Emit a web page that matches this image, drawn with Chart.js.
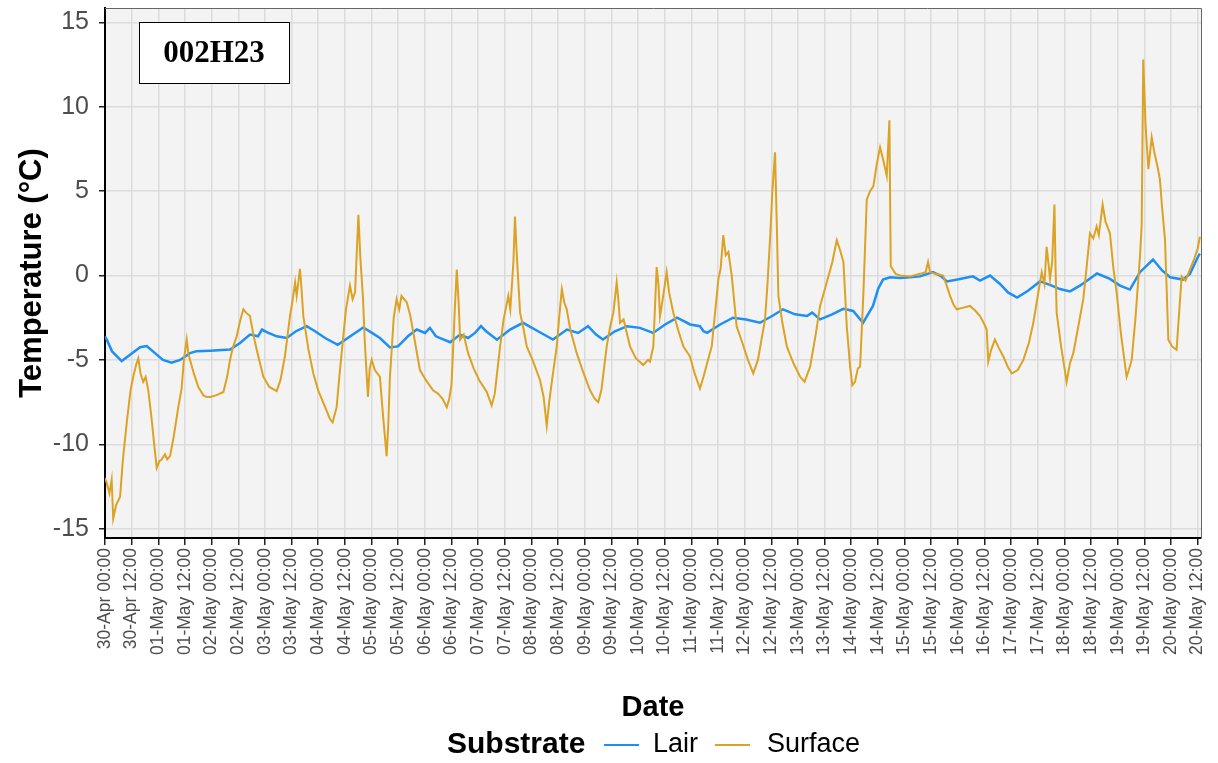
<!DOCTYPE html>
<html>
<head>
<meta charset="utf-8">
<script src="https://cdn.jsdelivr.net/npm/chart.js@4.4.1/dist/chart.umd.min.js"></script>
<style>
  html, body { margin: 0; padding: 0; background: #fff; }
  #chart { display: block; }
</style>
</head>
<body>
<canvas id="chart" width="1218" height="763"></canvas>
<script>
// DATA  (hours since 30-Apr 00:00, temperature in °C)
const seriesNames = ["Lair", "Surface"];
const seriesColors = ["#1E8FF5", "#DCA224"];
const logger = "002H23";

const tickLabels = [
  "30-Apr 00:00", "30-Apr 12:00", "01-May 00:00", "01-May 12:00", "02-May 00:00", "02-May 12:00",
  "03-May 00:00", "03-May 12:00", "04-May 00:00", "04-May 12:00", "05-May 00:00", "05-May 12:00",
  "06-May 00:00", "06-May 12:00", "07-May 00:00", "07-May 12:00", "08-May 00:00", "08-May 12:00",
  "09-May 00:00", "09-May 12:00", "10-May 00:00", "10-May 12:00", "11-May 00:00", "11-May 12:00",
  "12-May 00:00", "12-May 12:00", "13-May 00:00", "13-May 12:00", "14-May 00:00", "14-May 12:00",
  "15-May 00:00", "15-May 12:00", "16-May 00:00", "16-May 12:00", "17-May 00:00", "17-May 12:00",
  "18-May 00:00", "18-May 12:00", "19-May 00:00", "19-May 12:00", "20-May 00:00", "20-May 12:00"
];
const yTicks = [-15, -10, -5, 0, 5, 10, 15];

const lairReadings = [
  [0, -3.6], [0.8, -3.8], [3.2, -4.5], [7.5, -5.07], [11.3, -4.7], [15.8, -4.25], [18.8, -4.18],
  [22.5, -4.6], [26.1, -5.0], [30.0, -5.17], [33.8, -5.0], [38.3, -4.6], [41.3, -4.48], [47.3, -4.45],
  [56.3, -4.38], [60.8, -4.0], [65.3, -3.5], [68.9, -3.6], [70.7, -3.2], [72.8, -3.35], [77.3, -3.6],
  [81.8, -3.7], [86.0, -3.3], [90.8, -3.0], [94.6, -3.3], [99.1, -3.7], [104.8, -4.1], [109.3, -3.7],
  [116.3, -3.08], [120.2, -3.4], [123.8, -3.7], [128.3, -4.26], [131.9, -4.2], [136.4, -3.6],
  [140.4, -3.2], [144.1, -3.4], [146.3, -3.1], [149.0, -3.6], [155.4, -3.95], [159.9, -3.5],
  [163.5, -3.7], [166.6, -3.4], [169.3, -3.0], [171.6, -3.3], [176.5, -3.8], [182.4, -3.2],
  [188.2, -2.8], [195.0, -3.3], [201.7, -3.79], [208.0, -3.2], [213.0, -3.4], [217.5, -3.0],
  [221.1, -3.5], [224.2, -3.79], [229.6, -3.3], [235.1, -3.0], [240.9, -3.1], [246.8, -3.4],
  [252.2, -2.9], [257.6, -2.5], [263.5, -2.9], [267.9, -3.0], [269.5, -3.3], [271.1, -3.4],
  [277.0, -2.9], [282.8, -2.5], [288.7, -2.6], [294.9, -2.8], [300.4, -2.4], [305.3, -2.0],
  [310.7, -2.3], [316.1, -2.4], [318.4, -2.2], [322.0, -2.6], [327.4, -2.3], [332.4, -1.97],
  [336.9, -2.1], [341.3, -2.8], [345.8, -1.8], [348.1, -0.8], [350.3, -0.24], [353.5, -0.1],
  [358.0, -0.15], [362.5, -0.1], [367.0, -0.05], [372.8, 0.2], [376.0, 0.0], [379.2, -0.35],
  [385.0, -0.2], [390.8, -0.05], [394.0, -0.3], [398.5, 0.0], [403.0, -0.5], [406.6, -1.0],
  [410.7, -1.3], [415.6, -0.9], [421.0, -0.35], [425.5, -0.55], [430.0, -0.8], [434.5, -0.94],
  [439.0, -0.6], [446.7, 0.12], [452.5, -0.2], [457.0, -0.6], [461.5, -0.83], [466.0, 0.2],
  [471.9, 0.95], [476.0, 0.3], [479.6, -0.1], [485.4, -0.24], [488.5, 0.1], [492.1, 1.1], [493.0, 1.3]
];

const surfaceReadings = [
  [0.0, -12.0], [0.8, -12.3], [2.0, -12.9], [3.0, -12.1], [3.7, -14.4], [5.0, -13.6], [6.8, -13.1],
  [8.0, -11.0], [9.8, -8.7], [11.5, -6.8], [12.7, -6.0], [14.0, -5.3], [15.0, -4.9], [16.0, -5.8],
  [17.2, -6.3], [18.3, -6.0], [19.5, -6.8], [21.0, -8.5], [22.3, -10.2], [23.3, -11.4], [24.5, -11.0],
  [25.5, -10.9], [27.0, -10.6], [28.0, -10.9], [29.3, -10.7], [31.0, -9.5], [33.0, -7.8], [34.5, -6.7],
  [35.5, -5.0], [36.8, -3.8], [37.5, -4.6], [38.3, -5.0], [40.0, -5.8], [42.0, -6.6], [44.3, -7.1],
  [46.0, -7.2], [47.3, -7.2], [50.0, -7.1], [53.3, -6.9], [55.0, -6.0], [56.3, -5.0], [57.5, -4.3],
  [59.3, -3.6], [61.0, -2.6], [62.3, -2.0], [63.5, -2.2], [65.3, -2.4], [66.8, -3.5], [68.5, -4.5],
  [71.3, -6.0], [74.0, -6.6], [77.3, -6.85], [79.0, -6.2], [81.0, -4.8], [83.3, -2.4], [84.3, -1.6],
  [85.6, -0.4], [86.3, -1.2], [87.8, 0.4], [88.5, -0.8], [89.3, -2.4], [91.5, -4.3], [93.8, -5.8],
  [96.0, -6.8], [98.5, -7.6], [101.3, -8.5], [102.5, -8.7], [104.3, -7.8], [105.5, -6.0], [107.3, -3.6],
  [108.5, -2.0], [110.3, -0.6], [111.5, -1.4], [112.6, -1.0], [114.1, 3.6], [115.0, 1.0], [116.2, -1.4],
  [117.0, -4.0], [118.4, -7.2], [119.2, -5.5], [120.1, -5.0], [121.5, -5.6], [123.8, -6.0], [125.0, -8.0],
  [126.8, -10.7], [127.5, -9.0], [128.3, -6.0], [129.1, -4.4], [130.0, -2.5], [131.3, -1.4], [132.5, -2.0],
  [133.5, -1.2], [135.9, -1.6], [137.5, -2.4], [139.0, -3.5], [141.8, -5.6], [144.5, -6.2], [147.7, -6.8],
  [150.0, -7.0], [152.0, -7.3], [153.9, -7.8], [155.0, -7.3], [156.0, -6.5], [156.8, -4.2], [157.5, -2.0],
  [158.4, 0.35], [159.2, -1.5], [159.9, -3.8], [161.5, -3.5], [163.5, -4.6], [166.0, -5.5], [168.5, -6.2],
  [171.9, -6.9], [174.1, -7.7], [175.5, -7.0], [177.9, -4.2], [179.5, -2.6], [181.6, -1.2], [182.5, -2.0],
  [183.9, 0.8], [184.6, 3.5], [185.5, 1.0], [186.9, -2.2], [188.5, -3.2], [189.9, -4.2], [192.5, -5.0],
  [195.9, -6.2], [197.5, -7.2], [198.9, -8.9], [200.0, -7.5], [201.5, -6.0], [203.4, -4.2], [204.5, -2.5],
  [205.7, -0.8], [206.8, -1.6], [207.9, -2.0], [209.5, -3.2], [212.4, -4.6], [215.0, -5.6], [218.4, -6.8],
  [220.5, -7.3], [222.1, -7.5], [223.5, -6.8], [225.9, -4.2], [227.5, -3.0], [228.9, -2.2], [230.4, -0.4],
  [231.2, -1.5], [231.9, -2.8], [233.5, -2.6], [236.4, -4.2], [239.0, -4.9], [242.4, -5.3], [244.5, -5.0],
  [245.4, -5.1], [246.9, -4.2], [248.4, 0.5], [249.2, -0.5], [249.9, -2.4], [251.0, -1.5], [252.9, 0.2],
  [254.0, -1.0], [255.9, -2.2], [258.0, -3.2], [260.4, -4.2], [263.4, -4.8], [265.5, -5.8], [267.9, -6.7],
  [269.5, -6.0], [271.5, -5.0], [273.2, -4.2], [275.0, -1.8], [276.2, -0.2], [277.2, 0.4], [278.4, 2.4],
  [279.5, 1.2], [280.7, 1.4], [282.2, 0.0], [284.4, -3.0], [287.0, -4.0], [289.5, -5.0], [291.9, -5.8],
  [294.0, -5.0], [296.0, -3.5], [297.2, -2.6], [298.3, -0.5], [299.5, 2.3], [300.5, 5.0], [301.7, 7.3],
  [302.5, 3.0], [303.2, -1.2], [305.0, -2.8], [307.0, -4.2], [310.0, -5.2], [313.0, -6.0], [315.0, -6.3],
  [317.5, -5.4], [320.0, -3.5], [322.0, -1.8], [325.0, -0.4], [327.5, 0.8], [329.5, 2.1], [331.0, 1.5],
  [332.5, 0.8], [334.0, -3.0], [335.5, -5.4], [336.5, -6.5], [337.7, -6.3], [339.0, -5.5], [340.0, -5.4],
  [341.5, -1.0], [343.0, 4.5], [344.5, 5.0], [346.0, 5.3], [347.5, 6.6], [349.0, 7.6], [350.5, 6.8],
  [352.0, 5.9], [353.2, 9.2], [353.8, 0.55], [356.0, 0.1], [358.0, 0.0], [362.5, -0.05], [367.0, 0.1],
  [369.5, 0.2], [370.6, 0.8], [371.5, 0.2], [374.0, 0.1], [377.4, 0.0], [379.0, -0.6], [380.5, -1.2],
  [382.0, -1.7], [383.5, -2.0], [386.5, -1.9], [389.5, -1.8], [392.0, -2.1], [394.0, -2.4], [396.0, -2.9],
  [397.0, -3.2], [397.7, -5.1], [399.0, -4.4], [400.7, -3.8], [402.5, -4.3], [404.5, -4.8], [406.5, -5.4],
  [408.3, -5.8], [411.0, -5.6], [413.5, -5.0], [416.0, -4.0], [418.0, -2.8], [420.0, -1.2], [421.8, 0.2],
  [423.0, -0.5], [424.0, 1.7], [425.0, 0.5], [425.5, -0.2], [426.5, 0.8], [427.5, 4.2], [428.0, 0.5],
  [428.5, -2.2], [430.5, -4.2], [433.0, -6.3], [434.5, -5.2], [436.0, -4.6], [438.0, -3.2], [440.5, -1.4],
  [442.0, 0.5], [443.5, 2.5], [445.0, 2.2], [446.5, 2.9], [447.5, 2.4], [449.2, 4.2], [450.5, 3.2],
  [452.5, 2.5], [454.0, 0.5], [455.5, -1.0], [457.5, -3.5], [460.0, -6.0], [461.0, -5.6], [462.3, -5.0],
  [464.0, -2.5], [466.0, 1.1], [466.8, 3.0], [467.5, 12.8], [468.5, 9.0], [469.8, 6.3], [471.3, 8.2],
  [472.5, 7.3], [474.0, 6.4], [475.0, 5.7], [476.0, 4.0], [477.3, 2.1], [478.8, -3.8], [480.5, -4.2],
  [482.5, -4.4], [483.5, -2.5], [484.8, -0.05], [486.5, -0.3], [488.5, 0.35], [490.5, 1.0], [492.0, 1.6],
  [493.0, 2.3]
];

// SETUP
Chart.defaults.font.family = "'Liberation Sans', Arial, sans-serif";
Chart.defaults.color = "#4D4D4D";

const toPoints = (rows) => rows.map(([h, t]) => ({ x: h, y: t }));

const data = {
  datasets: [
    {
      label: seriesNames[0],
      data: toPoints(lairReadings),
      borderColor: seriesColors[0],
      borderWidth: 2.5,
      pointRadius: 0,
      order: 2,
    },
    {
      label: seriesNames[1],
      data: toPoints(surfaceReadings),
      borderColor: seriesColors[1],
      borderWidth: 2,
      pointRadius: 0,
      order: 1,
    },
  ],
};

// panel background, frame, id box and legend
const decorations = {
  id: "decorations",
  beforeDraw(chart) {
    const { ctx, chartArea: a } = chart;
    ctx.save();
    ctx.fillStyle = "#F3F3F3";
    ctx.fillRect(a.left, a.top, a.right - a.left, a.bottom - a.top);
    ctx.restore();
  },
  afterDraw(chart) {
    const { ctx, chartArea: a } = chart;
    ctx.save();
    ctx.strokeStyle = "#666";
    ctx.lineWidth = 1;
    ctx.beginPath();
    ctx.moveTo(a.left, a.top + 0.5);
    ctx.lineTo(a.right + 0.5, a.top + 0.5);
    ctx.lineTo(a.right + 0.5, a.bottom);
    ctx.stroke();

    // logger id box
    ctx.fillStyle = "#fff";
    ctx.fillRect(139, 22, 150, 61);
    ctx.strokeStyle = "#000";
    ctx.strokeRect(139.5, 22.5, 150, 61);
    ctx.fillStyle = "#000";
    ctx.font = "bold 31px 'Liberation Serif', 'Times New Roman', serif";
    ctx.textAlign = "center";
    ctx.textBaseline = "middle";
    ctx.fillText(logger, 214, 54);

    // legend
    const ly = 745;
    ctx.textAlign = "left";
    ctx.font = "bold 30px 'Liberation Sans', Arial, sans-serif";
    ctx.fillText("Substrate", 447, ly);
    ctx.font = "27px 'Liberation Sans', Arial, sans-serif";
    const items = [[604, 653], [715, 767]];
    seriesNames.forEach((name, i) => {
      ctx.strokeStyle = seriesColors[i];
      ctx.lineWidth = 2;
      ctx.beginPath();
      ctx.moveTo(items[i][0], ly);
      ctx.lineTo(items[i][0] + 35, ly);
      ctx.stroke();
      ctx.fillStyle = "#000";
      ctx.fillText(name, items[i][1], ly);
    });
    ctx.restore();
  },
};

// keep the panel where the reference has it, whatever the label overhang
const noOverhang = (scale) => {
  scale.paddingTop = 0;
  scale.paddingBottom = 0;
  scale.paddingLeft = 0;
  scale.paddingRight = 0;
};

// CONFIG
const config = {
  type: "line",
  data: data,
  plugins: [decorations],
  options: {
    responsive: false,
    animation: false,
    devicePixelRatio: 1,
    layout: { padding: { left: 14, top: 8, right: 17, bottom: 38 } },
    scales: {
      x: {
        type: "linear",
        min: 0,
        max: 493.5,
        afterBuildTicks: (scale) => {
          scale.ticks = tickLabels.map((_, i) => ({ value: i * 12 }));
        },
        afterFit: (scale) => { scale.height = 187; noOverhang(scale); },
        ticks: {
          autoSkip: false,
          minRotation: 90,
          maxRotation: 90,
          padding: 3,
          color: "#4D4D4D",
          font: { size: 17.5 },
          callback: (v, i) => tickLabels[i],
        },
        grid: { color: "#DCDCDC", lineWidth: 1.5, tickColor: "#222", tickLength: 7 },
        border: { display: true, color: "#000", width: 2 },
        title: { display: true, text: "Date", color: "#000", font: { size: 29, weight: "bold" }, padding: 0 },
      },
      y: {
        type: "linear",
        min: -15.55,
        max: 15.85,
        afterBuildTicks: (scale) => {
          scale.ticks = yTicks.map((v) => ({ value: v }));
        },
        afterFit: (scale) => { scale.width = 91; noOverhang(scale); },
        ticks: { padding: 10, color: "#4D4D4D", font: { size: 25 } },
        grid: { color: "#DCDCDC", lineWidth: 1.5, tickColor: "#222", tickLength: 6 },
        border: { display: true, color: "#000", width: 2 },
        title: { display: true, text: "Temperature (°C)", color: "#000", font: { size: 31, weight: "bold" }, padding: 0 },
      },
    },
    plugins: {
      legend: { display: false },
      tooltip: { enabled: false },
    },
  },
};

const myChart = new Chart(document.getElementById("chart"), config);
</script>
</body>
</html>
